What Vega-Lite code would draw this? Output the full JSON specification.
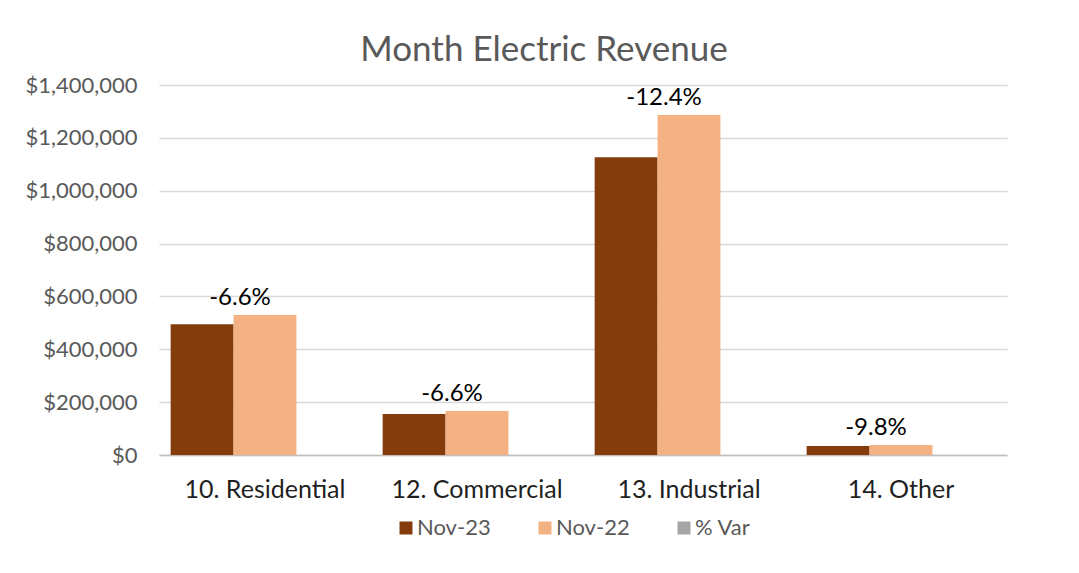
{
  "$schema": "https://vega.github.io/schema/vega-lite/v6.json",
  "width": 848,
  "height": 370,
  "autosize": {"type": "none"},
  "padding": {"left": 159, "top": 85, "right": 72, "bottom": 118},
  "background": "white",
  "config": {"view": {"stroke": null}},
  "title": {
    "text": "Month Electric Revenue",
    "anchor": "middle",
    "frame": "group",
    "dx": -39,
    "offset": 6,
    "font": "Lato",
    "fontSize": 35,
    "fontWeight": "normal",
    "color": "#595959"
  },
  "datasets": {
    "bars": [
      {"category": "10. Residential", "series": "Nov-23", "value": 495000},
      {"category": "10. Residential", "series": "Nov-22", "value": 530000},
      {"category": "10. Residential", "series": "% Var", "value": -0.066},
      {"category": "12. Commercial", "series": "Nov-23", "value": 155500},
      {"category": "12. Commercial", "series": "Nov-22", "value": 166500},
      {"category": "12. Commercial", "series": "% Var", "value": -0.066},
      {"category": "13. Industrial", "series": "Nov-23", "value": 1127000},
      {"category": "13. Industrial", "series": "Nov-22", "value": 1286500},
      {"category": "13. Industrial", "series": "% Var", "value": -0.124},
      {"category": "14. Other", "series": "Nov-23", "value": 34000},
      {"category": "14. Other", "series": "Nov-22", "value": 37700},
      {"category": "14. Other", "series": "% Var", "value": -0.098}
    ],
    "labels": [
      {"category": "10. Residential", "revenue": 530000, "label": "-6.6%"},
      {"category": "12. Commercial", "revenue": 166500, "label": "-6.6%"},
      {"category": "13. Industrial", "revenue": 1286500, "label": "-12.4%"},
      {"category": "14. Other", "revenue": 37700, "label": "-9.8%"}
    ]
  },
  "layer": [
    {
      "data": {"name": "bars"},
      "mark": {"type": "bar"},
      "encoding": {
        "x": {
          "field": "category",
          "type": "nominal",
          "sort": null,
          "scale": {"paddingInner": 0.11, "paddingOuter": 0.055},
          "axis": {
            "title": null,
            "labelAngle": 0,
            "labelFont": "Lato",
            "labelFontSize": 25,
            "labelColor": "#1f1f1f",
            "labelPadding": 22,
            "ticks": false,
            "domainColor": "#BFBFBF",
            "domainWidth": 1.5
          }
        },
        "xOffset": {
          "field": "series",
          "type": "nominal",
          "sort": ["Nov-23", "Nov-22", "% Var"],
          "scale": {"paddingInner": 0, "paddingOuter": 0}
        },
        "y": {
          "field": "value",
          "type": "quantitative",
          "scale": {"domain": [0, 1400000], "nice": false},
          "axis": {
            "title": null,
            "values": [0, 200000, 400000, 600000, 800000, 1000000, 1200000, 1400000],
            "format": "$,.0f",
            "labelFont": "Lato",
            "labelFontSize": 22,
            "labelColor": "#595959",
            "labelPadding": 22,
            "ticks": false,
            "domain": false,
            "gridColor": "#D9D9D9",
            "gridWidth": 1.5
          }
        },
        "color": {
          "field": "series",
          "type": "nominal",
          "scale": {
            "domain": ["Nov-23", "Nov-22", "% Var"],
            "range": ["#843C0C", "#F4B183", "#A5A5A5"]
          },
          "legend": {
            "title": null,
            "orient": "none",
            "legendX": 236,
            "legendY": 432,
            "direction": "horizontal",
            "symbolType": "square",
            "symbolSize": 169,
            "symbolStrokeWidth": 0,
            "labelFont": "Lato",
            "labelFontSize": 22,
            "labelColor": "#595959",
            "labelOffset": 0,
            "columnPadding": 43
          }
        }
      }
    },
    {
      "data": {"name": "labels"},
      "mark": {
        "type": "text",
        "font": "Lato",
        "fontSize": 24,
        "color": "#000000",
        "baseline": "alphabetic",
        "dx": -25,
        "dy": -10
      },
      "encoding": {
        "x": {"field": "category", "type": "nominal", "sort": null},
        "y": {"field": "revenue", "type": "quantitative"},
        "text": {"field": "label"}
      }
    }
  ]
}
